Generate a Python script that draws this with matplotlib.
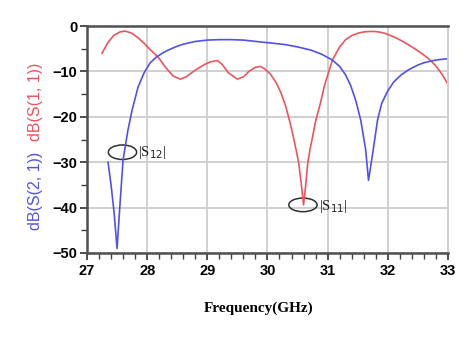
import matplotlib.pyplot as plt
from matplotlib.patches import Ellipse

f11 = [27.25, 27.35, 27.45, 27.55, 27.63, 27.75, 27.85, 27.95, 28.05, 28.18, 28.3, 28.43,
       28.55, 28.65, 28.75, 28.85, 28.95, 29.05, 29.17, 29.25, 29.35, 29.5, 29.6, 29.7,
       29.8, 29.88, 29.95, 30.05, 30.15, 30.22, 30.3, 30.38, 30.43, 30.48, 30.52, 30.56,
       30.6, 30.64, 30.67, 30.71, 30.75, 30.8, 30.88, 30.95, 31.08, 31.2, 31.3, 31.4,
       31.5, 31.6, 31.7, 31.77, 31.85, 31.95, 32.05, 32.15, 32.25, 32.35, 32.45, 32.55,
       32.65, 32.72, 32.8, 32.9, 33.0]
s11 = [-6.0, -3.6, -2.0, -1.3, -1.1, -1.6, -2.6, -3.8, -5.2, -6.8, -9.0, -11.0,
       -11.7, -11.2, -10.2, -9.3, -8.5, -7.9, -7.6, -8.5, -10.3, -11.7, -11.2, -9.9,
       -9.1, -8.9, -9.4, -10.6, -12.6, -14.6, -17.5, -21.5, -24.4, -27.5, -30.2, -34.5,
       -39.4, -34.5, -30.2, -27.0, -24.4, -21.0, -17.0, -13.0, -7.5, -4.6, -3.0, -2.1,
       -1.6, -1.3, -1.2, -1.2, -1.3, -1.6, -2.1, -2.7, -3.4, -4.2, -5.0, -5.9,
       -6.9, -7.7, -8.8, -10.6, -12.8]

f21 = [27.35, 27.4, 27.45, 27.5, 27.55, 27.6, 27.68, 27.75, 27.85, 27.95, 28.05, 28.15,
       28.25, 28.35, 28.47, 28.6, 28.8, 29.0, 29.2, 29.4, 29.6, 29.88, 30.1, 30.3,
       30.5, 30.72, 30.9, 31.08, 31.2, 31.3, 31.38, 31.47, 31.55, 31.63, 31.68, 31.75,
       31.83, 31.9, 32.0, 32.1, 32.22, 32.35, 32.5, 32.6, 32.72, 32.85, 33.0]
s21 = [-30.0, -35.0, -41.0, -49.0, -39.0, -29.5, -23.0, -18.5, -13.4, -10.3, -8.1, -6.9,
       -6.0, -5.3, -4.6, -4.0, -3.4, -3.1, -3.0, -3.0, -3.1, -3.5, -3.8, -4.1,
       -4.6, -5.3, -6.2, -7.5, -8.9, -10.8, -13.0, -16.5, -20.7, -27.0, -34.0, -28.0,
       -20.7, -17.0, -14.3, -12.3, -10.8, -9.6, -8.6, -8.1, -7.7, -7.4, -7.2]

xticks = [27, 28, 29, 30, 31, 32, 33]
yticks = [0, -10, -20, -30, -40, -50]

red = '#e8565e'
blue = '#5252e2'

fig = plt.figure(figsize=(4.74, 3.38), dpi=100)
ax = fig.add_axes([0.1835, 0.2515, 0.7615, 0.6715])

ax.plot(f11, s11, color=red, lw=1.2)
ax.plot(f21, s21, color=blue, lw=1.2)

ax.set_xlim(27, 33)
ax.set_ylim(-50, 0)
ax.set_xticks(xticks)
ax.set_yticks(yticks)
ax.set_xticks([27 + 0.2 * i for i in range(31)], minor=True)
ax.set_yticks([-5 - 10 * i for i in range(5)], minor=True)
ax.grid(True, color='#d0d0d0', lw=1.4)
ax.set_axisbelow(True)

for lab in ax.get_xticklabels() + ax.get_yticklabels():
    lab.set_fontweight('bold')
    lab.set_fontfamily('Liberation Sans')
    lab.set_fontsize(10.5)
ax.tick_params(which='major', direction='out', length=5, width=1.3, color='#404040')
ax.tick_params(which='minor', direction='out', length=4, width=1.0, color='#404040')
ax.tick_params(axis='x', pad=3)
ax.tick_params(axis='y', pad=2)

for s in ['left', 'bottom', 'top']:
    ax.spines[s].set_color('#505050')
    ax.spines[s].set_linewidth(1.8)
ax.spines['right'].set_color('#d0d0d0')
ax.spines['right'].set_linewidth(1.4)

fig.text(0.545, 0.088, 'Frequency(GHz)', fontfamily='Liberation Serif', fontweight='bold',
         fontsize=11, ha='center', va='center')

fig.text(0.074, 0.698, 'dB(S(1, 1))', rotation=90, color=red, fontsize=11.5,
         fontfamily='Liberation Sans', ha='center', va='center')
fig.text(0.074, 0.435, 'dB(S(2, 1))', rotation=90, color=blue, fontsize=11.5,
         fontfamily='Liberation Sans', ha='center', va='center')

ax.add_patch(Ellipse((27.59, -27.8), 0.47, 3.2, fill=False, ec='#303030', lw=1.1))
ax.text(27.85, -27.8, '|S$_{12}$|', fontfamily='Liberation Serif', fontsize=10.5,
        va='center', ha='left', color='#202020')
ax.add_patch(Ellipse((30.59, -39.4), 0.47, 3.0, fill=False, ec='#303030', lw=1.1))
ax.text(30.86, -39.8, '|S$_{11}$|', fontfamily='Liberation Serif', fontsize=10.5,
        va='center', ha='left', color='#202020')

fig.savefig('out.png', dpi=100)
